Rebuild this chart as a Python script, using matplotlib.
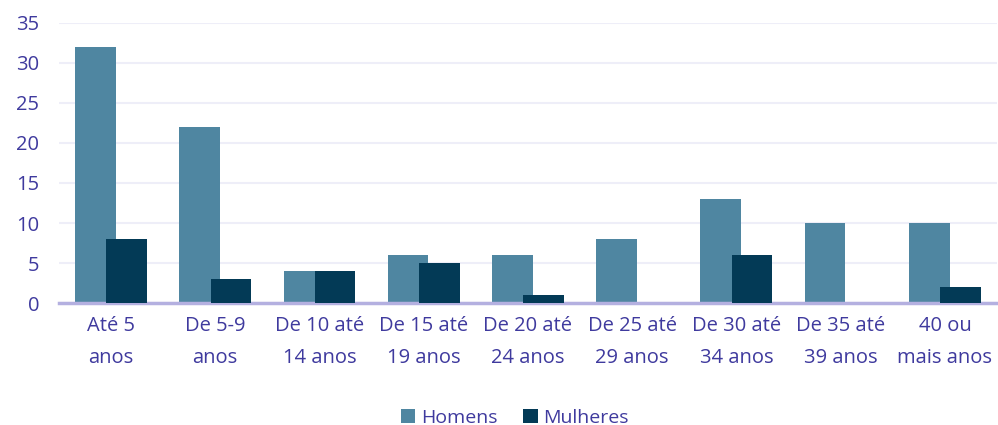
import matplotlib.pyplot as plt
import numpy as np

categorias = ['Até 5\nanos', 'De 5-9\nanos', 'De 10 até\n14 anos', 'De 15 até\n19 anos',
              'De 20 até\n24 anos', 'De 25 até\n29 anos', 'De 30 até\n34 anos',
              'De 35 até\n39 anos', '40 ou\nmais anos']
homens = [32, 22, 4, 6, 6, 8, 13, 10, 10]
mulheres = [8, 3, 4, 5, 1, 0, 6, 0, 2]

cor_texto = '#3F3A9E'
plt.rcParams['font.family'] = ['Open Sans', 'DejaVu Sans']

fig, ax = plt.subplots(figsize=(9.98, 4.25), dpi=100)
fig.subplots_adjust(left=0.059, right=0.999, top=0.946, bottom=0.287)

x = np.arange(len(categorias))
largura = 0.39
ax.bar(x - 0.15, homens, largura, color='#4F86A1', label='Homens', zorder=2)
ax.bar(x + 0.15, mulheres, largura, color='#033A56', label='Mulheres', zorder=3)

ax.set_xlim(-0.5, len(categorias) - 0.5)
ax.set_ylim(0, 35)
ax.set_yticks(range(0, 36, 5))
ax.set_xticks(x)
ax.set_xticklabels(categorias, linespacing=1.8)
ax.tick_params(axis='both', length=0, labelsize=14.5, colors=cor_texto)
ax.tick_params(axis='x', pad=9)
ax.tick_params(axis='y', pad=14)
ax.yaxis.grid(True, color='#EEEEF8', linewidth=1.5, zorder=0)
ax.set_axisbelow(True)
for s in ['top', 'right', 'left']:
    ax.spines[s].set_visible(False)
ax.spines['bottom'].set_color('#B4B0E0')
ax.spines['bottom'].set_linewidth(2.5)

ax.legend(loc='center', bbox_to_anchor=(0.486, -0.41), ncol=2, frameon=False,
          fontsize=14, labelcolor=cor_texto, handlelength=0.75, handleheight=0.75,
          handletextpad=0.3, columnspacing=1.3)

fig.savefig('out.png')
